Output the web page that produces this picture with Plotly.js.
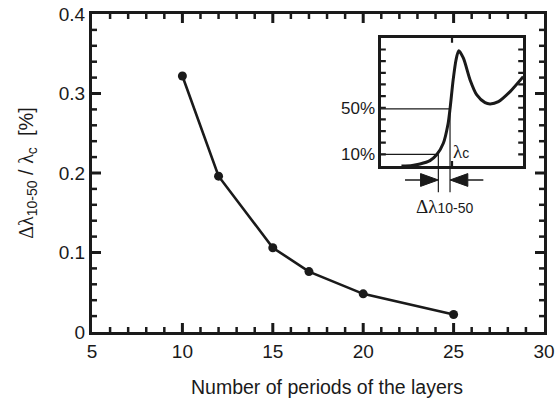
<!DOCTYPE html>
<html>
<head>
<meta charset="utf-8">
<script src="https://cdn.plot.ly/plotly-3.0.1.min.js"></script>
<style>
  html, body { margin: 0; padding: 0; background: #ffffff; }
  #chart { width: 558px; height: 402px; }
</style>
</head>
<body>
<div id="chart"></div>
<script>
// ---- main data ----
const periods = [10, 12, 15, 17, 20, 25];
const relWidth = [0.322, 0.196, 0.106, 0.076, 0.048, 0.022];
const xTicks = [5, 10, 15, 20, 25, 30];
const yTicks = [0, 0.1, 0.2, 0.3, 0.4];
const xMinorStep = 1;
const yMinorStep = 0.02;

// ---- inset (schematic reflectance edge) ----
const insetX = [1.45, 2.2, 2.75, 3.45, 3.92, 4.39, 4.72, 4.86, 5.08, 5.28, 5.47, 5.8, 6.27, 6.74, 7.32, 7.68, 8.26, 9.08, 10.0];
const insetY = [0.0, 0.05, 0.17, 0.46, 0.96, 1.95, 3.6, 4.9, 7.39, 9.1, 9.9, 9.25, 7.39, 6.1, 5.44, 5.33, 5.53, 6.39, 7.67];
const insetYTicks = [1, 2, 3, 4, 5, 6, 7, 8, 9, 10];
const insetXTicks = [5];
const levelLabels = ['50%', '10%'];
const levelValues = [4.9, 1.0];
const levelCross = [4.86, 4.04];     // x where curve reaches 50% and 10%
const arrowTails = [7.2, 1.7];       // arrow tails (right arrow, left arrow)
const arrowLevel = -1.2;
const guideBottom = -2.25;

const font = 'Liberation Sans, Arial, sans-serif';
const ink = '#1a1a1a';

// inset axis geometry
const y2Range = [0, 11];
const y2Dom = [0.522, 0.925];
const y3Dom = [0.33, 0.925];
const uPerPaper = (y2Range[1] - y2Range[0]) / (y2Dom[1] - y2Dom[0]);
const y3Range = [y2Range[0] - (y2Dom[0] - y3Dom[0]) * uPerPaper,
                 y2Range[1] + (y3Dom[1] - y2Dom[1]) * uPerPaper];

const traces = [];

// main series
traces.push({
  x: periods, y: relWidth, type: 'scatter', mode: 'lines+markers',
  line: { color: ink, width: 2.6 },
  marker: { color: ink, size: 9 },
  cliponaxis: false, hoverinfo: 'x+y'
});

// inset curve
traces.push({
  x: insetX, y: insetY, xaxis: 'x2', yaxis: 'y2', type: 'scatter', mode: 'lines',
  line: { color: ink, width: 3, shape: 'spline', smoothing: 0.7 },
  hoverinfo: 'skip'
});

// horizontal guide lines at 50% and 10%, and vertical drops below the frame
levelValues.forEach((lv, i) => {
  traces.push({
    x: [0, levelCross[i]], y: [lv, lv], xaxis: 'x2', yaxis: 'y2',
    type: 'scatter', mode: 'lines', line: { color: ink, width: 1.2 }, hoverinfo: 'skip'
  });
  traces.push({
    x: [levelCross[i], levelCross[i]], y: [lv, guideBottom], xaxis: 'x2', yaxis: 'y3',
    type: 'scatter', mode: 'lines', line: { color: ink, width: 1.2 }, hoverinfo: 'skip'
  });
});

// arrows pointing at the two guide lines
const headLen = 1.25, headHalf = 0.55;
levelCross.forEach((tip, i) => {
  const tail = arrowTails[i];
  const dir = Math.sign(tip - tail);
  const base = tip - dir * headLen;
  traces.push({
    x: [tail, base], y: [arrowLevel, arrowLevel], xaxis: 'x2', yaxis: 'y3',
    type: 'scatter', mode: 'lines', line: { color: ink, width: 1.4 }, hoverinfo: 'skip'
  });
  traces.push({
    x: [base, tip, base, base], y: [arrowLevel + headHalf, arrowLevel, arrowLevel - headHalf, arrowLevel + headHalf],
    xaxis: 'x2', yaxis: 'y3', type: 'scatter', mode: 'lines', fill: 'toself',
    fillcolor: ink, line: { color: ink, width: 1 }, hoverinfo: 'skip'
  });
});

// ---- tick marks (inside, on all four sides) as pixel-sized shapes on the axes ----
const shapes = [];
function xTick(xref, v, yref, len, w) {
  shapes.push({ type: 'line', xref: xref, x0: v, x1: v, yref: yref, ysizemode: 'pixel', yanchor: 0, y0: 0, y1: len, line: { color: ink, width: w } });
  shapes.push({ type: 'line', xref: xref, x0: v, x1: v, yref: yref, ysizemode: 'pixel', yanchor: 1, y0: 0, y1: -len, line: { color: ink, width: w } });
}
function yTick(yref, v, xref, len, w) {
  shapes.push({ type: 'line', yref: yref, y0: v, y1: v, xref: xref, xsizemode: 'pixel', xanchor: 0, x0: 0, x1: len, line: { color: ink, width: w } });
  shapes.push({ type: 'line', yref: yref, y0: v, y1: v, xref: xref, xsizemode: 'pixel', xanchor: 1, x0: 0, x1: -len, line: { color: ink, width: w } });
}
const xFirst = xTicks[0], xLast = xTicks[xTicks.length - 1];
for (let k = 1; xFirst + k * xMinorStep < xLast - 1e-9; k++) {
  const v = xFirst + k * xMinorStep;
  const major = xTicks.some(t => Math.abs(t - v) < 1e-9);
  xTick('x', v, 'paper', major ? 9 : 5, major ? 3 : 2.5);
}
const yFirst = yTicks[0], yLast = yTicks[yTicks.length - 1];
for (let k = 1; yFirst + k * yMinorStep < yLast - 1e-9; k++) {
  const v = yFirst + k * yMinorStep;
  const major = yTicks.some(t => Math.abs(t - v) < 1e-9);
  yTick('y', v, 'paper', major ? 9 : 5, major ? 3 : 2.5);
}
insetYTicks.forEach(v => yTick('y2', v, 'x2 domain', 5, 2.2));
insetXTicks.forEach(v => xTick('x2', v, 'y2 domain', 5, 2.2));

const annotations = [];
levelLabels.forEach((t, i) => {
  annotations.push({
    text: t, xref: 'x2 domain', x: -0.03, xanchor: 'right',
    yref: 'y2', y: levelValues[i], yanchor: 'middle',
    showarrow: false, font: { family: font, size: 17, color: ink }
  });
});
annotations.push({
  text: '<span style="font-family:Liberation Serif">λ</span><span style="font-size:14px">c</span>',
  xref: 'x2', x: levelCross[0], xanchor: 'left', xshift: 1,
  yref: 'y2', y: 1.25, yanchor: 'middle',
  showarrow: false, font: { family: font, size: 19, color: ink }
});
annotations.push({
  text: '<span style="font-family:Liberation Serif">Δλ</span><span style="font-size:14px">10-50</span>',
  xref: 'x2', x: (levelCross[0] + levelCross[1]) / 2, xanchor: 'center',
  yref: 'y3', y: -3.5, yanchor: 'middle',
  showarrow: false, font: { family: font, size: 19, color: ink }
});
// x-axis title, placed as in the reference (slightly right of centre)
annotations.push({
  text: 'Number of periods of the layers',
  xref: 'paper', x: 0.52, xanchor: 'center',
  yref: 'paper', y: -0.173, yanchor: 'middle',
  showarrow: false, font: { family: font, size: 19.5, color: ink }
});

const layout = {
  width: 558, height: 402,
  margin: { l: 92, r: 14, t: 14, b: 70 },
  paper_bgcolor: '#ffffff', plot_bgcolor: 'rgba(0,0,0,0)',
  showlegend: false,
  font: { family: font, size: 19, color: ink },
  xaxis: {
    range: [xFirst, xLast], tickmode: 'array', tickvals: xTicks, ticktext: xTicks.map(String),
    ticks: '', showline: true, linewidth: 3, linecolor: ink, mirror: true,
    showgrid: false, zeroline: false,
    tickfont: { family: font, size: 19, color: ink }
  },
  yaxis: {
    range: [yFirst, yLast], tickmode: 'array', tickvals: yTicks, ticktext: yTicks.map(v => v === 0 ? '0' : v.toFixed(1)),
    ticks: '', showline: true, linewidth: 3, linecolor: ink, mirror: true,
    showgrid: false, zeroline: false,
    tickfont: { family: font, size: 19, color: ink },
    title: {
      text: '<span style="font-family:Liberation Serif">Δλ</span><sub>10-50</sub> / <span style="font-family:Liberation Serif">λ</span><sub>c</sub>  [%]',
      font: { family: font, size: 20, color: ink }, standoff: 20
    }
  },
  xaxis2: {
    domain: [0.639, 0.954], anchor: 'y2', range: [0, 10], ticks: '',
    showticklabels: false, showline: true, linewidth: 3, linecolor: ink, mirror: true,
    showgrid: false, zeroline: false, fixedrange: true
  },
  yaxis2: {
    domain: y2Dom, anchor: 'x2', range: y2Range, ticks: '',
    showticklabels: false, showline: true, linewidth: 3, linecolor: ink, mirror: true,
    showgrid: false, zeroline: false, fixedrange: true
  },
  yaxis3: {
    domain: y3Dom, anchor: 'x2', range: y3Range, visible: false, fixedrange: true
  },
  shapes: shapes,
  annotations: annotations
};

Plotly.newPlot('chart', traces, layout, { displayModeBar: false, staticPlot: true });
</script>
</body>
</html>
